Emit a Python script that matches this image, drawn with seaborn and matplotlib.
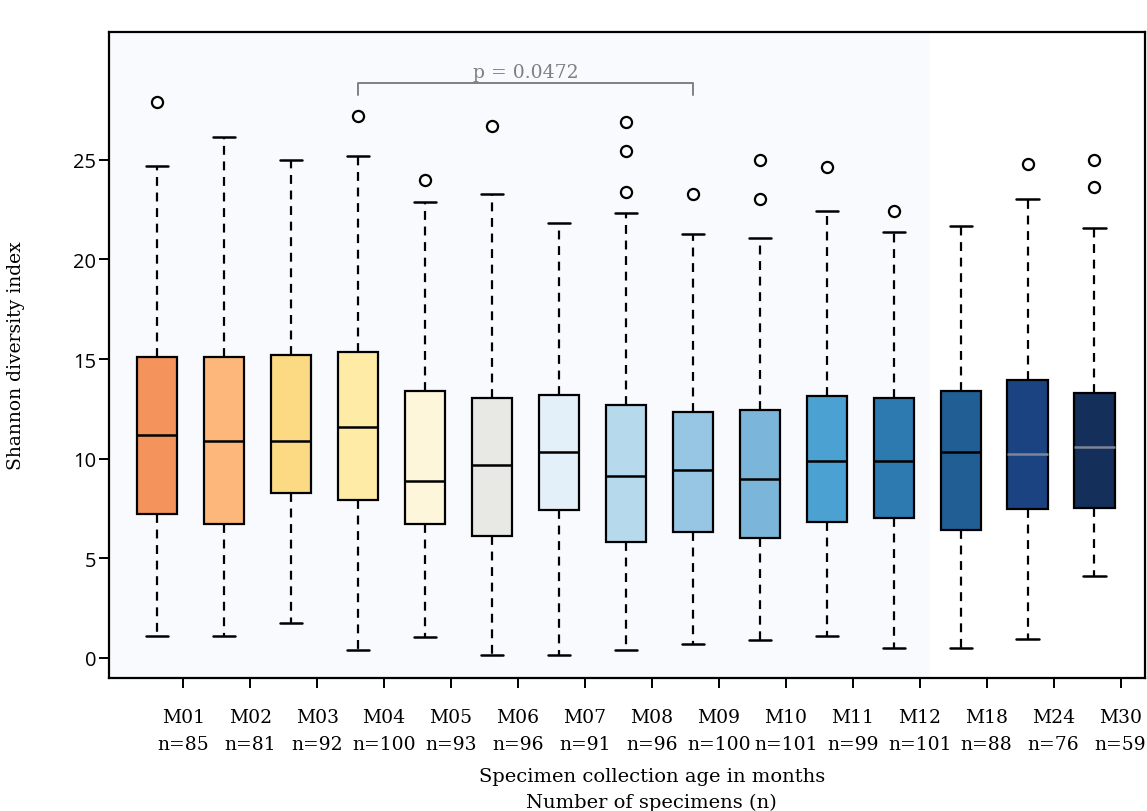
import numpy as np
import pandas as pd
import seaborn as sns
import matplotlib.pyplot as plt

months = ['M01', 'M02', 'M03', 'M04', 'M05', 'M06', 'M07', 'M08',
          'M09', 'M10', 'M11', 'M12', 'M18', 'M24', 'M30']
n_specimens = [85, 81, 92, 100, 93, 96, 91, 96, 100, 101, 99, 101, 88, 76, 59]

# five number summary
whisker_low = [1.1, 1.1, 1.75, 0.4, 1.05, 0.15, 0.15, 0.4, 0.7, 0.9, 1.1, 0.5, 0.5, 0.95, 4.1]
q1 = [7.2, 6.7, 8.3, 7.95, 6.7, 6.1, 7.4, 5.8, 6.3, 6.0, 6.8, 7.0, 6.4, 7.45, 7.5]
median = [11.2, 10.9, 10.9, 11.6, 8.9, 9.7, 10.35, 9.15, 9.45, 9.0, 9.9, 9.9, 10.35, 10.25, 10.6]
q3 = [15.1, 15.1, 15.2, 15.35, 13.4, 13.05, 13.2, 12.7, 12.35, 12.45, 13.15, 13.05, 13.4, 13.95, 13.3]
whisker_high = [24.7, 26.15, 25.0, 25.2, 22.9, 23.3, 21.85, 22.35, 21.3, 21.1, 22.45, 21.4, 21.7, 23.05, 21.6]

outlier_month = ['M01', 'M04', 'M05', 'M06', 'M08', 'M08', 'M08', 'M09',
                 'M10', 'M10', 'M11', 'M12', 'M24', 'M30', 'M30']
outlier_value = [27.9, 27.2, 24.0, 26.7, 26.9, 25.45, 23.4, 23.3,
                 25.0, 23.05, 24.65, 22.45, 24.8, 25.0, 23.65]

box_colors = ['#F4945C', '#FDB77A', '#FCDA84', '#FEEBA6', '#FEF6DB', '#E8E9E4',
              '#E3EFF9', '#B6D9EC', '#97C6E4', '#7BB5DA', '#4BA2D2', '#2D7AB0',
              '#215E94', '#1B4381', '#132F5A']
gray_median = ['M24', 'M30']

df = pd.DataFrame({
    'month': np.repeat(months, 5),
    'value': np.column_stack([whisker_low, q1, median, q3, whisker_high]).ravel(),
})

sns.set_theme(style='ticks')
plt.rcParams['font.family'] = ['DejaVu Serif']
plt.rcParams['text.color'] = 'black'
plt.rcParams['axes.labelcolor'] = 'black'
plt.rcParams['xtick.color'] = 'black'
plt.rcParams['ytick.color'] = 'black'

fig = plt.figure(figsize=(11.47, 8.12), dpi=100)
ax = fig.add_axes([0.095, 0.164, 0.903, 0.795])
ax.set_facecolor('white')

ax.axvspan(-0.72, 11.55, color='#F8FAFD', zorder=0, lw=0)

sns.boxplot(data=df, x='month', y='value', hue='month', order=months, hue_order=months,
            palette=box_colors, saturation=1, width=0.6, whis=(0, 100),
            linewidth=1.6, linecolor='black', legend=False, showfliers=False,
            whiskerprops=dict(linestyle=(0, (4, 3)), linewidth=1.6),
            capprops=dict(linewidth=1.8), capwidths=0.33,
            medianprops=dict(color='black', linewidth=1.8), ax=ax)

for cont, m in zip(ax.containers, months):
    if m in gray_median:
        for med in cont.medians:
            med.set_color('#7D8597')

sns.stripplot(x=outlier_month, y=outlier_value, order=months, jitter=False,
              marker='o', size=8, color='white', edgecolor='black', linewidth=1.6,
              ax=ax, zorder=4)

# significance bracket M04 vs M09
ax.plot([3, 3, 8, 8], [28.25, 28.85, 28.85, 28.25], color='#808080', lw=1.4)
ax.text(5.5, 28.95, 'p = 0.0472', ha='center', va='bottom', color='#7F7F7F', fontsize=13.5)

ax.set_xlim(-0.72, 14.75)
ax.set_ylim(-1.0, 31.4)
ax.set_yticks([0, 5, 10, 15, 20, 25])
ax.set_yticklabels(['0', '5', '10', '15', '20', '25'], family='Open Sans', fontsize=14.5)
ax.set_xticks(np.arange(len(months)) + 0.39,
              labels=[f'{m}\nn={n}' for m, n in zip(months, n_specimens)])
for lab in ax.get_xticklabels():
    lab.set_fontsize(13.5)
    lab.set_linespacing(1.65)

ax.tick_params(axis='both', direction='out', length=7, width=1.4, color='black')
ax.tick_params(axis='x', pad=15)
ax.tick_params(axis='y', pad=2)
for sp in ax.spines.values():
    sp.set_visible(True)
    sp.set_color('black')
    sp.set_linewidth(1.6)

ax.set_xlabel('Specimen collection age in months\nNumber of specimens (n)',
              fontsize=14, linespacing=1.55)
ax.xaxis.set_label_coords(0.524, -0.138)
ax.xaxis.label.set_va('top')
ax.set_ylabel('Shannon diversity index', fontsize=13.5)
ax.yaxis.set_label_coords(-0.081, 0.5)

fig.savefig('out.png', dpi=100)
